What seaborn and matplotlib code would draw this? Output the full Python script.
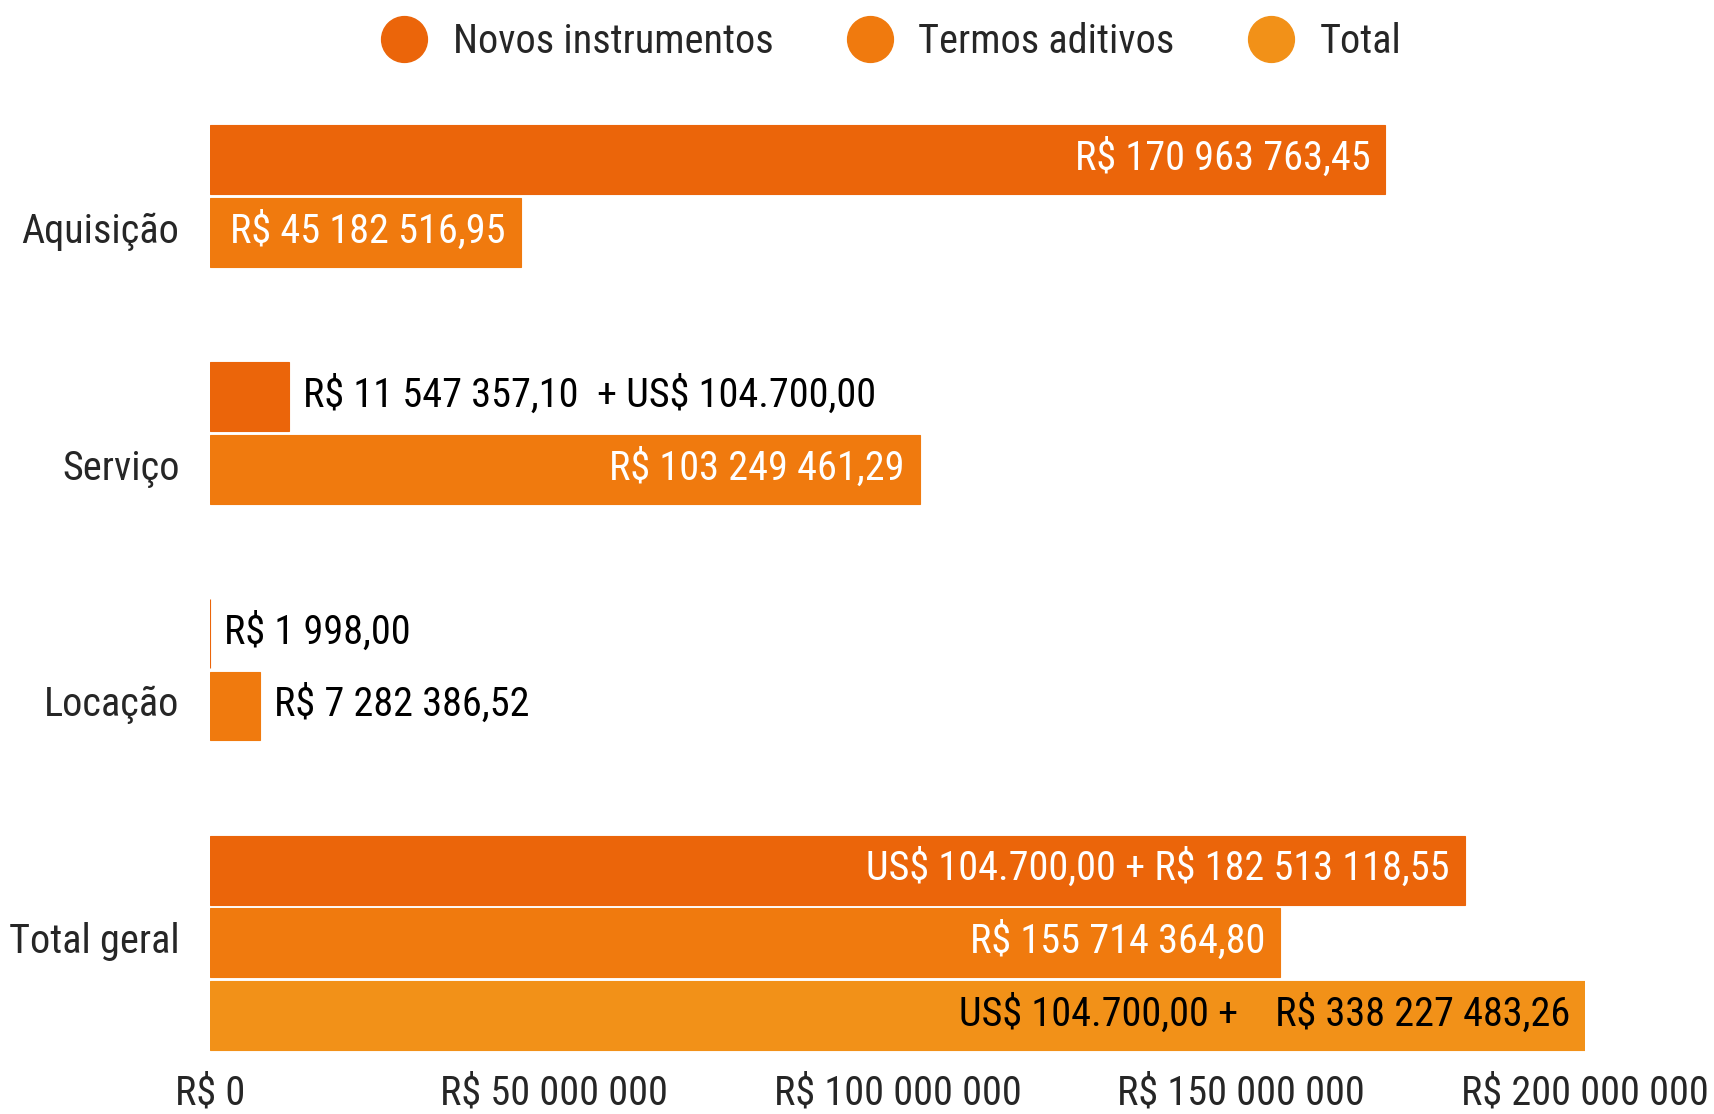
import matplotlib
matplotlib.use("Agg")
import matplotlib.pyplot as plt
from matplotlib import font_manager
from matplotlib.lines import Line2D
from matplotlib.transforms import ScaledTranslation
import pandas as pd
import seaborn as sns

categorias = ["Aquisição", "Serviço", "Locação", "Total geral"]
tipos = ["Novos instrumentos", "Termos aditivos", "Total"]
cores = ["#EB650A", "#F07A0E", "#F29118"]

novos = [170963763.45, 11547357.10, 1998.00, 182513118.55]
termos = [45182516.95, 103249461.29, 7282386.52, 155714364.80]
total = [338227483.26]

rotulos_novos = ["R$ 170 963 763,45", "R$ 11 547 357,10  + US$ 104.700,00",
                 "R$ 1 998,00", "US$ 104.700,00 + R$ 182 513 118,55"]
rotulos_termos = ["R$ 45 182 516,95", "R$ 103 249 461,29",
                  "R$ 7 282 386,52", "R$ 155 714 364,80"]
rotulos_total = ["US$ 104.700,00 +    R$ 338 227 483,26"]

xticks = [0, 50000000, 100000000, 150000000, 200000000]
xticklabels = ["R$ 0", "R$ 50 000 000", "R$ 100 000 000", "R$ 150 000 000", "R$ 200 000 000"]

linhas = []
for cat, v, r in zip(categorias, novos, rotulos_novos):
    linhas.append((cat, tipos[0], v, r))
for cat, v, r in zip(categorias, termos, rotulos_termos):
    linhas.append((cat, tipos[1], v, r))
for v, r in zip(total, rotulos_total):
    linhas.append((categorias[3], tipos[2], v, r))
df = pd.DataFrame(linhas, columns=["categoria", "tipo", "valor", "rotulo"])

sns.set_style("white")
instaladas = {f.name for f in font_manager.fontManager.ttflist}
fonte = "DejaVu Sans"
for nome in ["Roboto Condensed", "Liberation Sans Narrow", "Open Sans Condensed", "Roboto"]:
    if nome in instaladas:
        fonte = nome
        break
plt.rcParams["font.family"] = [fonte, "DejaVu Sans"]
tam = 29


def esc(s):
    # evita que o "$" seja lido como mathtext
    return s.replace("$", r"\$")


fig = plt.figure(figsize=(17.14, 11.14), dpi=100)
ax = fig.add_axes([0.1225, 0.056, 0.8022, 0.833])

sns.barplot(data=df, y="categoria", x="valor", hue="tipo", order=categorias,
            hue_order=tipos, palette=cores, saturation=1, width=0.92, gap=0.05,
            orient="h", errorbar=None, legend=False, linewidth=0, ax=ax)

for p in ax.patches:
    p.set_edgecolor(p.get_facecolor())
    p.set_linewidth(0.8)

xmax = 200000000
ax.set_xlim(0, xmax)
ax.set_ylim(3.46, -0.46)

# rotulos das barras
for i, cont in enumerate(ax.containers):
    sub = df[df["tipo"] == tipos[i]]
    for barra in cont:
        yc = barra.get_y() + barra.get_height() / 2
        cat = categorias[int(round(yc))]
        linha = sub[sub["categoria"] == cat]
        if linha.empty:
            continue
        valor = linha["valor"].iloc[0]
        texto = esc(linha["rotulo"].iloc[0])
        if valor > 40000000:
            cor_txt = "black" if tipos[i] == "Total" else "white"
            ax.annotate(texto, (min(valor, xmax), yc), xytext=(-15, 2),
                        textcoords="offset pixels", ha="right", va="center",
                        color=cor_txt, fontsize=tam)
        else:
            ax.annotate(texto, (valor, yc), xytext=(14, 2),
                        textcoords="offset pixels", ha="left", va="center",
                        color="black", fontsize=tam)

ax.set_xticks(xticks)
ax.set_xticklabels([esc(t) for t in xticklabels], fontsize=tam)
ax.tick_params(axis="y", labelsize=tam, length=0, pad=22)
ax.tick_params(axis="x", length=0, pad=16)
ax.set_xlabel("")
ax.set_ylabel("")
sns.despine(ax=ax, left=True, bottom=True)

subir = ScaledTranslation(0, 0.05, fig.dpi_scale_trans)
for lbl in ax.get_yticklabels():
    lbl.set_transform(lbl.get_transform() + subir)

handles = [Line2D([], [], marker="o", linestyle="", markersize=33,
                  markerfacecolor=c, markeredgecolor=c) for c in cores]
fig.legend(handles, tipos, loc="center", bbox_to_anchor=(0.515, 0.963), ncol=3,
           frameon=False, fontsize=tam, handletextpad=0.2, columnspacing=1.4)

fig.savefig("out.png", dpi=100)
